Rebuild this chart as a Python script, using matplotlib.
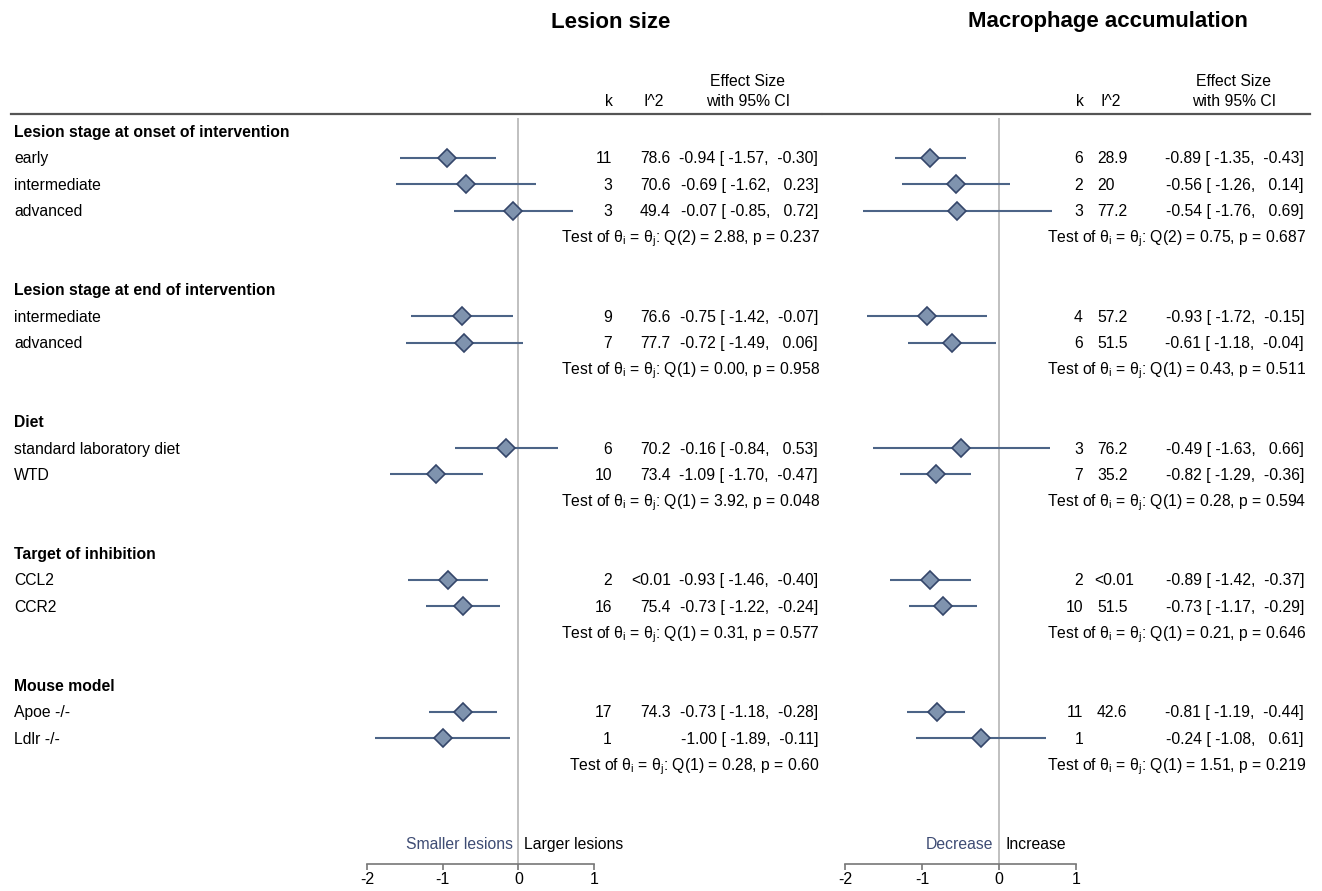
import matplotlib
matplotlib.use("Agg")
import matplotlib.pyplot as plt
from matplotlib import transforms
from matplotlib.lines import Line2D

plt.rcParams['font.family'] = ['Liberation Sans', 'DejaVu Sans']
plt.rcParams['mathtext.fontset'] = 'custom'
plt.rcParams['mathtext.rm'] = 'Liberation Sans'
plt.rcParams['mathtext.it'] = 'Liberation Sans:italic'
plt.rcParams['axes.unicode_minus'] = False

W, H = 1322, 891
FS = 11.3

# groups and subgroup labels
groups = ["Lesion stage at onset of intervention", "Lesion stage at end of intervention",
          "Diet", "Target of inhibition", "Mouse model"]
labels = [["early", "intermediate", "advanced"],
          ["intermediate", "advanced"],
          ["standard laboratory diet", "WTD"],
          ["CCL2", "CCR2"],
          ["Apoe -/-", "Ldlr -/-"]]

# lesion size
les_k = [11, 3, 3, 9, 7, 6, 10, 2, 16, 17, 1]
les_i2 = ["78.6", "70.6", "49.4", "76.6", "77.7", "70.2", "73.4", "<0.01", "75.4", "74.3", ""]
les_es = [-0.94, -0.69, -0.07, -0.75, -0.72, -0.16, -1.09, -0.93, -0.73, -0.73, -1.00]
les_lo = [-1.57, -1.62, -0.85, -1.42, -1.49, -0.84, -1.70, -1.46, -1.22, -1.18, -1.89]
les_hi = [-0.30, 0.23, 0.72, -0.07, 0.06, 0.53, -0.47, -0.40, -0.24, -0.28, -0.11]
les_test = ["Q(2) = 2.88, p = 0.237", "Q(1) = 0.00, p = 0.958", "Q(1) = 3.92, p = 0.048",
            "Q(1) = 0.31, p = 0.577", "Q(1) = 0.28, p = 0.60"]

# macrophage accumulation
mac_k = [6, 2, 3, 4, 6, 3, 7, 2, 10, 11, 1]
mac_i2 = ["28.9", "20", "77.2", "57.2", "51.5", "76.2", "35.2", "<0.01", "51.5", "42.6", ""]
mac_es = [-0.89, -0.56, -0.54, -0.93, -0.61, -0.49, -0.82, -0.89, -0.73, -0.81, -0.24]
mac_lo = [-1.35, -1.26, -1.76, -1.72, -1.18, -1.63, -1.29, -1.42, -1.17, -1.19, -1.08]
mac_hi = [-0.43, 0.14, 0.69, -0.15, -0.04, 0.66, -0.36, -0.37, -0.29, -0.44, 0.61]
mac_test = ["Q(2) = 0.75, p = 0.687", "Q(1) = 0.43, p = 0.511", "Q(1) = 0.28, p = 0.594",
            "Q(1) = 0.21, p = 0.646", "Q(1) = 1.51, p = 0.219"]

xticks = [-2, -1, 0, 1]

ROW0, ROWH = 131.5, 26.375
AX_TOP, AX_BOT = 118, 864
BASE = 5.6 / ROWH   # baseline offset of text below row centre

fig = plt.figure(figsize=(W / 100, H / 100), dpi=100)


def fx(px):
    return px / W


def fy(py):
    return 1 - py / H


# row layout
rows_head, rows_item, rows_test = [], [], []
r = 0
for labs in labels:
    rows_head.append(r)
    r += 1
    for _ in labs:
        rows_item.append(r)
        r += 1
    rows_test.append(r)
    r += 2


def panel(x0, x1, title, tcx, k, i2, es, lo, hi, test, cols, lt_shift, side_labels):
    ax = fig.add_axes([fx(x0), fy(AX_BOT), fx(x1 - x0), (AX_BOT - AX_TOP) / H])
    ax.set_xlim(xticks[0], xticks[-1])
    ax.set_ylim((AX_BOT - ROW0) / ROWH, (AX_TOP - ROW0) / ROWH)
    for s in ["top", "left", "right"]:
        ax.spines[s].set_visible(False)
    ax.spines["bottom"].set_color("#777777")
    ax.spines["bottom"].set_linewidth(1.2)
    ax.set_yticks([])
    ax.set_xticks(xticks)
    ax.tick_params(axis="x", direction="out", length=4, width=1.2, color="#777777",
                   labelsize=11.5, pad=2)
    ax.patch.set_alpha(0)
    ax.axvline(0, color="#b5b5b5", lw=1.2, zorder=1)

    ax.hlines(rows_item, lo, hi, color="#4c6487", lw=1.5, zorder=2)
    ax.plot(es, rows_item, "D", ms=9, mfc="#7f93ae", mec="#34466a", mew=1.2,
            ls="none", zorder=3)

    tr = transforms.blended_transform_factory(fig.transFigure, ax.transData)
    kx, ix, ex = cols
    for yy, kk, ii, e, l, h in zip(rows_item, k, i2, es, lo, hi):
        yb = yy + BASE
        ax.text(fx(kx), yb, str(kk), transform=tr, ha="right", va="baseline", fontsize=FS)
        xi = ix + (lt_shift if ii.startswith("<") else 0)
        ax.text(fx(xi), yb, ii, transform=tr, ha="left", va="baseline", fontsize=FS)
        ax.text(fx(ex), yb, "%.2f [%6.2f, %6.2f]" % (e, l, h), transform=tr,
                ha="right", va="baseline", fontsize=FS)
    for yy, t in zip(rows_test, test):
        ax.text(fx(ex + 2), yy + BASE,
                r"Test of $\mathrm{\theta_i}$ = $\mathrm{\theta_j}$: " + t,
                transform=tr, ha="right", va="baseline", fontsize=FS)

    # headers
    fig.text(fx(tcx), fy(22), title, ha="center", va="center", fontsize=16,
             fontweight="bold")
    fig.text(fx(kx - 3), fy(106.5), "k", ha="center", va="baseline", fontsize=FS)
    fig.text(fx(ix + 14), fy(106.5), "I^2", ha="center", va="baseline", fontsize=FS)
    fig.text(fx(ex - 70), fy(86.5), "Effect Size", ha="center", va="baseline", fontsize=FS)
    fig.text(fx(ex - 70), fy(106.5), "with 95% CI", ha="center", va="baseline", fontsize=FS)

    # direction labels
    left_lab, right_lab = side_labels
    yd = (843 - ROW0) / ROWH + BASE
    ax.text(-0.07, yd, left_lab, ha="right", va="baseline", fontsize=FS, color="#3e4c74")
    ax.text(0.08, yd, right_lab, ha="left", va="baseline", fontsize=FS, color="black")
    return ax, tr


axL, trL = panel(367, 594, "Lesion size", 611, les_k, les_i2, les_es, les_lo, les_hi,
                 les_test, (612, 640, 818), -9, ("Smaller lesions", "Larger lesions"))
axR, trR = panel(845, 1076, "Macrophage accumulation", 1108, mac_k, mac_i2, mac_es,
                 mac_lo, mac_hi, mac_test, (1083, 1097, 1304), -3, ("Decrease", "Increase"))

# row labels
for yy, g in zip(rows_head, groups):
    axL.text(fx(14), yy + BASE, g, transform=trL, ha="left", va="baseline", fontsize=FS,
             fontweight="bold")
flat = [l for labs in labels for l in labs]
for yy, l in zip(rows_item, flat):
    axL.text(fx(14), yy + BASE, l, transform=trL, ha="left", va="baseline", fontsize=FS)

# header rule
fig.add_artist(Line2D([fx(11), fx(821)], [fy(114), fy(114)], color="#555555", lw=1.6))
fig.add_artist(Line2D([fx(823), fx(1310)], [fy(114), fy(114)], color="#555555", lw=1.6))

fig.savefig("out.png", dpi=100)
